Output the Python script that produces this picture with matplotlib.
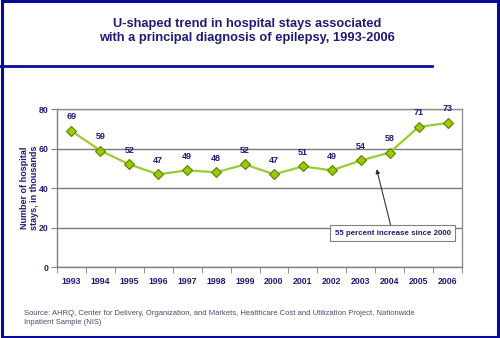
import matplotlib.pyplot as plt
from matplotlib.lines import Line2D
from matplotlib.patches import Rectangle

years = ['1993', '1994', '1995', '1996', '1997', '1998', '1999',
         '2000', '2001', '2002', '2003', '2004', '2005', '2006']
stays = [69, 59, 52, 47, 49, 48, 52, 47, 51, 49, 54, 58, 71, 73]
y_ticks = [0, 20, 40, 60, 80]

navy = '#1c1c78'
border = '#0a0a96'
green_line = '#99cc33'
green_face = '#99cc00'
green_edge = '#5c7f00'

plt.rcParams['font.family'] = ['Liberation Sans', 'DejaVu Sans']

fig = plt.figure(figsize=(5.0, 3.38), dpi=100)
fig.patch.set_facecolor('white')

# outer frame and rule under the title
fig.patches.append(Rectangle((0.003, 0.004), 0.993, 0.992, transform=fig.transFigure,
                             fill=False, edgecolor=border, linewidth=2.2))
fig.lines.append(Line2D([0.0, 0.864], [0.805, 0.805], transform=fig.transFigure,
                        color=border, linewidth=2))

fig.text(0.494, 0.908, 'U-shaped trend in hospital stays associated\n'
         'with a principal diagnosis of epilepsy, 1993-2006',
         ha='center', va='center', color=navy, fontsize=9.3, fontweight='bold',
         linespacing=1.3)

ax = fig.add_axes([0.114, 0.21, 0.81, 0.467])
x = list(range(len(years)))
ax.plot(x, stays, color=green_line, linewidth=1.6, marker='D', markersize=5.5,
        markerfacecolor=green_face, markeredgecolor=green_edge, markeredgewidth=0.8,
        zorder=3)

for xi, v in zip(x, stays):
    ax.annotate(str(v), (xi, v), xytext=(0, 7), textcoords='offset points',
                ha='center', va='bottom', color=navy, fontsize=6.5, fontweight='bold')

ax.set_xlim(-0.5, len(years) - 0.5)
ax.set_ylim(0, 80)
ax.set_yticks(y_ticks)
ax.set_xticks(x)
ax.set_xticklabels(years)
ax.set_xticks([i + 0.5 for i in range(-1, len(years))], minor=True)
ax.tick_params(axis='x', which='major', length=0, pad=7)
ax.tick_params(axis='x', which='minor', length=4, color='#808080', direction='out')
ax.tick_params(axis='y', length=4, color='#808080', direction='out', pad=2)
for lbl in ax.get_xticklabels() + ax.get_yticklabels():
    lbl.set_color(navy)
    lbl.set_fontsize(6.3)
    lbl.set_fontweight('bold')

ax.yaxis.grid(True, color='#7a7a7a', linewidth=1.0)
ax.set_axisbelow(True)
for side in ['left', 'bottom']:
    ax.spines[side].set_color('#808080')
    ax.spines[side].set_linewidth(1.0)
for side in ['top', 'right']:
    ax.spines[side].set_color('#909090')
    ax.spines[side].set_linewidth(1.0)

ax.set_ylabel('Number of hospital\nstays, in thousands', color=navy, fontsize=6.5,
              fontweight='bold', labelpad=-0.5, linespacing=1.15)

ax.annotate('55 percent increase since 2000', xy=(10.55, 49.6), xytext=(11.1, 17.2),
            ha='center', va='center', color=navy, fontsize=5.7, fontweight='bold',
            bbox=dict(boxstyle='square,pad=0.55', facecolor='white', edgecolor='#808080',
                      linewidth=0.8),
            arrowprops=dict(arrowstyle='-|>', color='#333333', linewidth=0.8,
                            mutation_scale=6, shrinkA=0, shrinkB=0),
            zorder=4)

fig.text(0.048, 0.059, 'Source: AHRQ, Center for Delivery, Organization, and Markets, '
         'Healthcare Cost and Utilization Project, Nationwide\nInpatient Sample (NIS)',
         ha='left', va='center', color='#4a4a6a', fontsize=5.5, linespacing=1.35)

fig.savefig('out.png', dpi=100, facecolor='white')
